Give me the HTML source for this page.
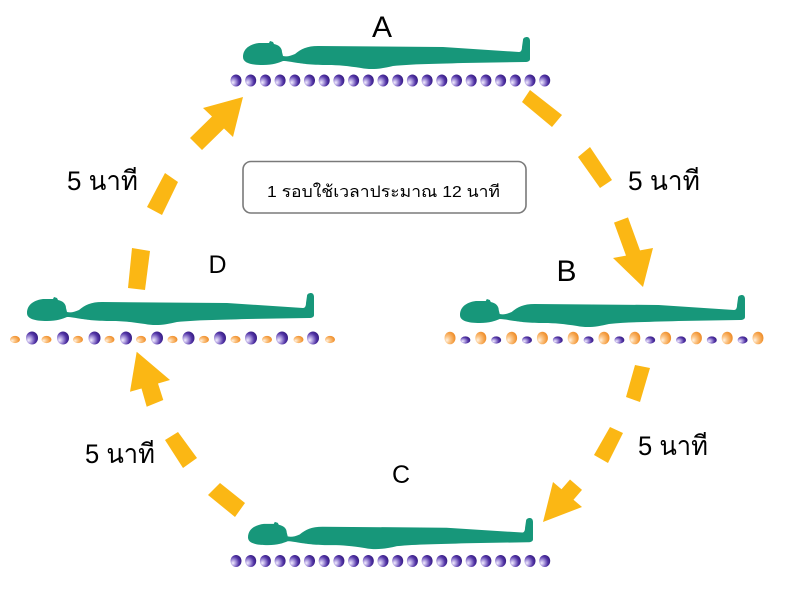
<!DOCTYPE html>
<html>
<head>
<meta charset="utf-8">
<style>
html,body{margin:0;padding:0;background:#ffffff;}
svg{display:block;}
.lbl{font-family:"Liberation Sans","DejaVu Sans",sans-serif;fill:#000;}
.th{font-family:"Liberation Sans","DejaVu Sans","Noto Sans CJK SC",sans-serif;fill:#000;}
</style>
</head>
<body>
<svg width="800" height="599" viewBox="0 0 800 599" xmlns="http://www.w3.org/2000/svg">
<defs>
  <radialGradient id="pg" cx="0.3" cy="0.6" r="0.85" fx="0.22" fy="0.68">
    <stop offset="0" stop-color="#f4f0ff"/>
    <stop offset="0.25" stop-color="#b4a4e2"/>
    <stop offset="0.6" stop-color="#5234a6"/>
    <stop offset="1" stop-color="#260f6c"/>
  </radialGradient>
  <radialGradient id="og" cx="0.3" cy="0.6" r="0.85" fx="0.22" fy="0.68">
    <stop offset="0" stop-color="#fff2e2"/>
    <stop offset="0.3" stop-color="#fcc78a"/>
    <stop offset="0.7" stop-color="#f39a3c"/>
    <stop offset="1" stop-color="#e67e1a"/>
  </radialGradient>
  <path id="person" fill="#17977a" d="M0,20 C0,11 8,7 16,6 L26,6 L27,4 L30,5 L31,7 C36,8 39,11 39,15 L40,19 C44,20 47,19 52,17 C58,12 64,9 75,9 L200,10 L276,15 C278,15 279,13 279,10 L280,3 C280,1 282,0 284,0 C286,0 287,2 287,4 L287,22 C287,24 285,25 282,25 L220,26 C190,27 170,27 150,29 C138,32 128,33 118,31 C105,29 95,28 85,28 C70,28 62,27 55,26 C48,25 44,24 40,24 C35,26 30,28 20,28 C8,28 0,26 0,20 Z"/>
  <ellipse id="pd" cx="0" cy="0" rx="5.5" ry="6" fill="url(#pg)"/>
</defs>

<!-- Persons -->
<use href="#person" transform="translate(243,37)"/>
<use href="#person" transform="translate(27,293)"/>
<use href="#person" transform="translate(460,295) scale(0.993,1)"/>
<use href="#person" transform="translate(248,518) scale(0.993,0.97)"/>

<!-- A dots -->
<g id="rowA">
  <use href="#pd" x="236" y="80.5"/><use href="#pd" x="250.7" y="80.5"/><use href="#pd" x="265.4" y="80.5"/><use href="#pd" x="280.1" y="80.5"/><use href="#pd" x="294.8" y="80.5"/><use href="#pd" x="309.5" y="80.5"/><use href="#pd" x="324.2" y="80.5"/><use href="#pd" x="338.9" y="80.5"/><use href="#pd" x="353.6" y="80.5"/><use href="#pd" x="368.3" y="80.5"/><use href="#pd" x="383" y="80.5"/><use href="#pd" x="397.7" y="80.5"/><use href="#pd" x="412.4" y="80.5"/><use href="#pd" x="427.1" y="80.5"/><use href="#pd" x="441.8" y="80.5"/><use href="#pd" x="456.5" y="80.5"/><use href="#pd" x="471.2" y="80.5"/><use href="#pd" x="485.9" y="80.5"/><use href="#pd" x="500.6" y="80.5"/><use href="#pd" x="515.3" y="80.5"/><use href="#pd" x="530" y="80.5"/><use href="#pd" x="544.7" y="80.5"/>
</g>
<!-- C dots -->
<use href="#rowA" transform="translate(0,480.5)"/>

<!-- D dots: orange small, purple big -->
<g fill="url(#og)">
  <ellipse cx="15" cy="339.5" rx="5" ry="3.6"/><ellipse cx="46.5" cy="339.5" rx="5" ry="3.6"/><ellipse cx="78" cy="339.5" rx="5" ry="3.6"/><ellipse cx="109.5" cy="339.5" rx="5" ry="3.6"/><ellipse cx="141" cy="339.5" rx="5" ry="3.6"/><ellipse cx="172.5" cy="339.5" rx="5" ry="3.6"/><ellipse cx="204" cy="339.5" rx="5" ry="3.6"/><ellipse cx="235.5" cy="339.5" rx="5" ry="3.6"/><ellipse cx="267" cy="339.5" rx="5" ry="3.6"/><ellipse cx="298.5" cy="339.5" rx="5" ry="3.6"/><ellipse cx="330" cy="339.5" rx="5" ry="3.6"/>
</g>
<g fill="url(#pg)">
  <ellipse cx="32" cy="338" rx="6" ry="6.5"/><ellipse cx="63" cy="338" rx="6" ry="6.5"/><ellipse cx="94.5" cy="338" rx="6" ry="6.5"/><ellipse cx="126" cy="338" rx="6" ry="6.5"/><ellipse cx="157" cy="338" rx="6" ry="6.5"/><ellipse cx="188.5" cy="338" rx="6" ry="6.5"/><ellipse cx="220" cy="338" rx="6" ry="6.5"/><ellipse cx="251" cy="338" rx="6" ry="6.5"/><ellipse cx="282" cy="338" rx="6" ry="6.5"/><ellipse cx="313" cy="338" rx="6" ry="6.5"/>
</g>

<!-- B dots: orange big, purple small -->
<g fill="url(#og)">
  <ellipse cx="450" cy="338" rx="5.5" ry="6.3"/><ellipse cx="480.8" cy="338" rx="5.5" ry="6.3"/><ellipse cx="511.6" cy="338" rx="5.5" ry="6.3"/><ellipse cx="542.4" cy="338" rx="5.5" ry="6.3"/><ellipse cx="573.2" cy="338" rx="5.5" ry="6.3"/><ellipse cx="604" cy="338" rx="5.5" ry="6.3"/><ellipse cx="634.8" cy="338" rx="5.5" ry="6.3"/><ellipse cx="665.6" cy="338" rx="5.5" ry="6.3"/><ellipse cx="696.4" cy="338" rx="5.5" ry="6.3"/><ellipse cx="727.2" cy="338" rx="5.5" ry="6.3"/><ellipse cx="758" cy="338" rx="5.5" ry="6.3"/>
</g>
<g fill="url(#pg)">
  <ellipse cx="465.4" cy="340" rx="5" ry="3.6"/><ellipse cx="496.2" cy="340" rx="5" ry="3.6"/><ellipse cx="527" cy="340" rx="5" ry="3.6"/><ellipse cx="557.8" cy="340" rx="5" ry="3.6"/><ellipse cx="588.6" cy="340" rx="5" ry="3.6"/><ellipse cx="619.4" cy="340" rx="5" ry="3.6"/><ellipse cx="650.2" cy="340" rx="5" ry="3.6"/><ellipse cx="681" cy="340" rx="5" ry="3.6"/><ellipse cx="711.8" cy="340" rx="5" ry="3.6"/><ellipse cx="742.6" cy="340" rx="5" ry="3.6"/>
</g>

<!-- Arrows / dashes -->
<g fill="#fbb714">
  <!-- top-left: D -> A -->
  <polygon points="132,248 150,251 145,290 128,288"/>
  <polygon points="147,207 162,215 178,182 165,173"/>
  <polygon points="190,138 212,116.5 203,108 243,97 233,137 224,128.5 202,150"/>
  <!-- top-right: A -> B -->
  <polygon points="522,102 530,90 562,115 552,127"/>
  <polygon points="578,157 590,147 612,180 600,188"/>
  <polygon points="614,222.6 628,217.4 640,250.4 653,248 643,287 613,258 626,255.6"/>
  <!-- bottom-right: B -> C -->
  <polygon points="635,365 650,368 640,402 626,397"/>
  <polygon points="610,427 623,433 608,463 594,455"/>
  <polygon points="543,522 553,482 561.5,489.3 570,479.5 582,489.9 573.5,499.7 582,507"/>
  <!-- bottom-left: C -> D -->
  <polygon points="136.7,351.7 170,380 158,383.5 163.3,400 146.7,406.7 141.5,388.5 130,391.7"/>
  <polygon points="165,440 178,432 197,458 183,468"/>
  <polygon points="208,495 220,483 245,503 235,517"/>
</g>

<!-- Letters -->
<text class="lbl" x="382" y="37" font-size="30" text-anchor="middle">A</text>
<text class="lbl" x="566.5" y="281" font-size="30" text-anchor="middle">B</text>
<text class="lbl" x="401" y="483" font-size="25" text-anchor="middle">C</text>
<text class="lbl" x="217.5" y="273" font-size="25" text-anchor="middle">D</text>

<!-- 5 minute labels -->
<text class="th" x="67" y="190" font-size="27" textLength="71" lengthAdjust="spacingAndGlyphs">5 นาที</text>
<text class="th" x="628" y="190" font-size="27" textLength="72" lengthAdjust="spacingAndGlyphs">5 นาที</text>
<text class="th" x="638" y="455" font-size="27" textLength="70" lengthAdjust="spacingAndGlyphs">5 นาที</text>
<text class="th" x="85" y="463" font-size="27" textLength="70" lengthAdjust="spacingAndGlyphs">5 นาที</text>

<!-- Center box -->
<rect x="243" y="161.5" width="283" height="51.5" rx="8" ry="8" fill="#ffffff" stroke="#7a7a7a" stroke-width="1.6"/>
<text class="th" x="267" y="197" font-size="16" textLength="233" lengthAdjust="spacingAndGlyphs">1 รอบใช้เวลาประมาณ 12 นาที</text>
</svg>
</body>
</html>
